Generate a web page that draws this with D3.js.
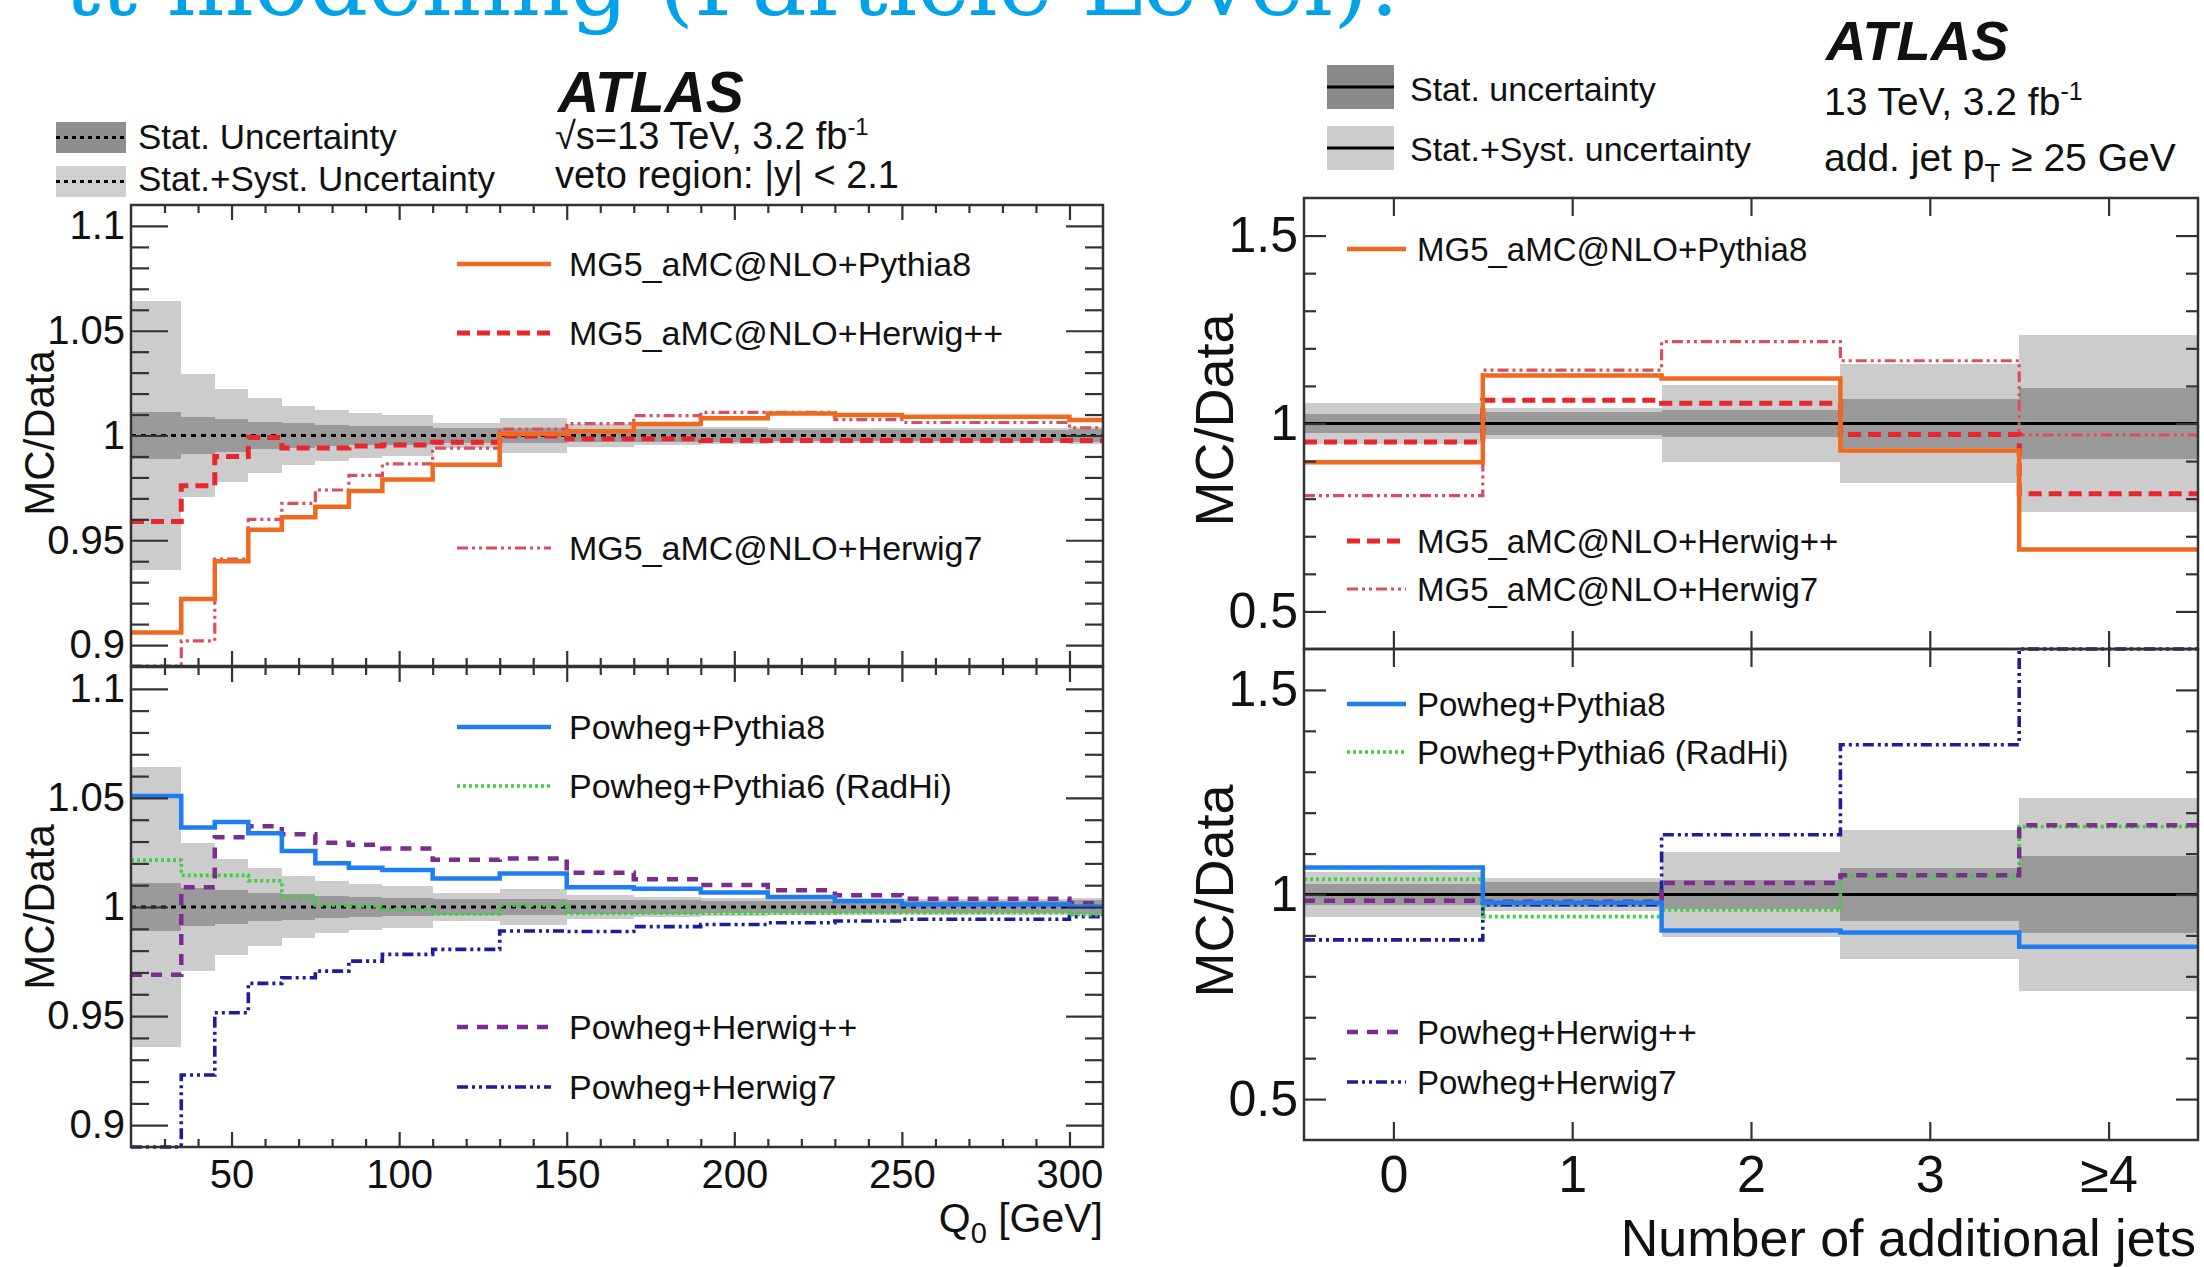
<!DOCTYPE html>
<html>
<head>
<meta charset="utf-8">
<script src="https://cdn.jsdelivr.net/npm/d3@7"></script>
<style>
  html, body { margin: 0; padding: 0; background: #fff; }
  svg { display: block; }
</style>
</head>
<body>
<svg id="fig" width="2204" height="1267"></svg>
<script>
// ---------------- data: gap fraction vs Q0 ----------------
const q0Edges = [20, 35, 45, 55, 65, 75, 85, 95, 110, 130, 150, 170, 190, 210, 230, 250, 300, 310];
const q0StatErr = [0.0112, 0.0088, 0.0078, 0.0066, 0.0058, 0.0050, 0.0047, 0.0043, 0.0038, 0.0035, 0.0032, 0.0030, 0.0029, 0.0028, 0.0028, 0.0027, 0.0030];
const q0TotErr  = [0.0640, 0.0292, 0.0220, 0.0178, 0.0142, 0.0120, 0.0105, 0.0098, 0.0062, 0.0082, 0.0055, 0.0045, 0.0040, 0.0038, 0.0038, 0.0035, 0.0040];

const q0MgPythia8  = [0.906, 0.922, 0.940, 0.955, 0.961, 0.966, 0.9735, 0.979, 0.986, 1.0008, 1.002, 1.0055, 1.0082, 1.0105, 1.0098, 1.009, 1.0074];
const q0MgHerwigPP = [0.959, 0.976, 0.990, 0.999, 0.994, 0.994, 0.995, 0.9955, 0.9968, 0.9998, 0.9984, 0.9984, 0.9976, 0.9976, 0.9976, 0.9976, 0.9976];
const q0MgHerwig7  = [0.890, 0.902, 0.941, 0.960, 0.9676, 0.974, 0.981, 0.9865, 0.994, 1.003, 1.0057, 1.0095, 1.011, 1.011, 1.0076, 1.0062, 1.0037];

const q0PwPythia8  = [1.0509, 1.0364, 1.039, 1.0338, 1.0257, 1.020, 1.018, 1.017, 1.0131, 1.0154, 1.009, 1.0084, 1.0066, 1.0046, 1.0028, 1.0012, 1.0002];
const q0PwPythia6  = [1.0215, 1.0145, 1.0145, 1.012, 1.0047, 1.0008, 1.0005, 0.999, 0.9968, 1.0008, 0.997, 0.9972, 0.9972, 0.9973, 0.9975, 0.9975, 0.9965];
const q0PwHerwigPP = [0.969, 1.009, 1.032, 1.037, 1.0333, 1.0295, 1.0285, 1.0268, 1.0216, 1.0222, 1.0157, 1.0127, 1.0101, 1.0077, 1.0054, 1.0038, 1.0017];
const q0PwHerwig7  = [0.890, 0.923, 0.9515, 0.965, 0.9676, 0.9706, 0.9752, 0.9783, 0.9806, 0.989, 0.9888, 0.991, 0.992, 0.9928, 0.9936, 0.9944, 0.9956];

const q0TickValues = [50, 100, 150, 200, 250, 300];
const q0TickLabels = ["50", "100", "150", "200", "250", "300"];
const q0RatioTicks = [0.9, 0.95, 1, 1.05, 1.1];
const q0RatioLabels = ["0.9", "0.95", "1", "1.05", "1.1"];

// ---------------- data: number of additional jets ----------------
const njetCategories = ["0", "1", "2", "3", "\u22654"];
const njStatErr = [0.025, 0.030, 0.035, 0.065, 0.094];
const njTotErr  = [0.055, 0.040, 0.103, 0.158, 0.235];

const njMgPythia8  = [0.897, 1.128, 1.120, 0.928, 0.665];
const njMgHerwigPP = [0.951, 1.062, 1.054, 0.971, 0.813];
const njMgHerwig7  = [0.808, 1.142, 1.218, 1.167, 0.970];

const njPwPythia8  = [1.066, 0.980, 0.912, 0.907, 0.872];
const njPwPythia6  = [1.037, 0.946, 0.962, 1.045, 1.166];
const njPwHerwigPP = [0.985, 0.982, 1.028, 1.047, 1.169];
const njPwHerwig7  = [0.889, 0.975, 1.146, 1.366, 1.600];

const njRatioTicks = [0.5, 1, 1.5];
const njRatioLabels = ["0.5", "1", "1.5"];

// ---------------- styling ----------------
const FONT = "'Liberation Sans', Arial, Helvetica, sans-serif";
const AX = "#333";
const LIGHT = "#cccccc";
const DARK = "#9a9a9a";

const sty = {
  mgPy8:  { color: "#ef6a1f", width: 4.5, dash: null },
  mgHpp:  { color: "#e8262b", width: 5,   dash: "13,7" },
  mgH7:   { color: "#d9505c", width: 3.2, dash: "11,4,3,4,3,4" },
  pwPy8:  { color: "#1f7df2", width: 4.5, dash: null },
  pwPy6:  { color: "#3fcf3f", width: 3.6, dash: "3,3" },
  pwHpp:  { color: "#7b2d8e", width: 4.5, dash: "11,9" },
  pwH7:   { color: "#1c1c9c", width: 3.6, dash: "11,4,3,4,3,4" }
};

const svg = d3.select("#fig");
const defs = svg.append("defs");
let clipCount = 0;

// header text running off the top edge
svg.append("text")
  .attr("x", 1400).attr("y", 15).attr("text-anchor", "end")
  .attr("font-family", "'DejaVu Serif', serif").attr("font-size", 92)
  .attr("fill", "#00a2e8")
  .text("t\u0074\u0304 modelling (Particle Level):");

function stepPoints(edges, vals) {
  const pts = vals.map((v, i) => [edges[i], v]);
  pts.push([edges[edges.length - 1], vals[vals.length - 1]]);
  return pts;
}

function drawPanel(p) {
  const g = svg.append("g");
  const [xa, xb] = p.x.range();
  const [yb, ya] = p.y.range();
  const id = "clip" + (clipCount++);
  defs.append("clipPath").attr("id", id).append("rect")
    .attr("x", xa).attr("y", ya - 3).attr("width", xb - xa).attr("height", yb - ya + 6);
  const plot = g.append("g").attr("clip-path", `url(#${id})`);

  const bins = p.tot.map((t, i) => ({ x0: p.edges[i], x1: p.edges[i + 1], tot: t, stat: p.stat[i] }));
  plot.append("g").selectAll("rect").data(bins).join("rect")
    .attr("x", d => p.x(d.x0)).attr("width", d => p.x(d.x1) - p.x(d.x0))
    .attr("y", d => p.y(1 + d.tot)).attr("height", d => p.y(1 - d.tot) - p.y(1 + d.tot))
    .attr("fill", LIGHT).attr("shape-rendering", "crispEdges");
  plot.append("g").selectAll("rect").data(bins).join("rect")
    .attr("x", d => p.x(d.x0)).attr("width", d => p.x(d.x1) - p.x(d.x0))
    .attr("y", d => p.y(1 + d.stat)).attr("height", d => p.y(1 - d.stat) - p.y(1 + d.stat))
    .attr("fill", DARK).attr("shape-rendering", "crispEdges");

  plot.append("line")
    .attr("x1", xa).attr("x2", xb).attr("y1", p.y(1)).attr("y2", p.y(1))
    .attr("stroke", "#000").attr("stroke-width", p.refWidth)
    .attr("stroke-dasharray", p.refDash);

  const line = d3.line().x(d => p.x(d[0])).y(d => p.y(d[1])).curve(d3.curveStepAfter);
  p.series.forEach(s => {
    plot.append("path")
      .attr("d", line(stepPoints(p.edges, s.values)))
      .attr("fill", "none").attr("stroke", s.style.color)
      .attr("stroke-width", s.style.width)
      .attr("stroke-dasharray", s.style.dash);
  });

  // axes: ticks pointing inwards on all four sides
  const tidy = sel => {
    sel.select(".domain").remove();
    sel.selectAll("line").attr("stroke", AX).attr("stroke-width", 2.2);
    sel.attr("font-family", FONT);
    sel.selectAll("text").attr("fill", "#111");
  };
  g.append("g").attr("transform", `translate(${xa},0)`)
    .call(d3.axisLeft(p.y).tickValues(p.yMajor).tickSize(-p.yMajLen).tickPadding(6)
      .tickFormat((d, i) => p.yLabels[i]))
    .call(tidy).attr("font-size", p.yFont);
  g.append("g").attr("transform", `translate(${xa},0)`)
    .call(d3.axisLeft(p.y).tickValues(p.yMinor).tickSize(-p.yMinLen).tickFormat(""))
    .call(tidy);
  g.append("g").attr("transform", `translate(${xb},0)`)
    .call(d3.axisRight(p.y).tickValues(p.yMajor).tickSize(-p.yMajLen).tickFormat(""))
    .call(tidy);
  g.append("g").attr("transform", `translate(${xb},0)`)
    .call(d3.axisRight(p.y).tickValues(p.yMinor).tickSize(-p.yMinLen).tickFormat(""))
    .call(tidy);

  g.append("g").attr("transform", `translate(0,${ya})`)
    .call(d3.axisTop(p.x).tickValues(p.xMajor).tickSize(-p.xMajLen).tickFormat(""))
    .call(tidy);
  g.append("g").attr("transform", `translate(0,${yb})`)
    .call(d3.axisBottom(p.x).tickValues(p.xMajor).tickSize(-p.xMajLen).tickPadding(p.xPad)
      .tickFormat(p.xLabels ? (d, i) => p.xLabels[i] : ""))
    .call(tidy).attr("font-size", p.xFont);
  if (p.xMinor) {
    g.append("g").attr("transform", `translate(0,${ya})`)
      .call(d3.axisTop(p.x).tickValues(p.xMinor).tickSize(-p.xMinLen).tickFormat(""))
      .call(tidy);
    g.append("g").attr("transform", `translate(0,${yb})`)
      .call(d3.axisBottom(p.x).tickValues(p.xMinor).tickSize(-p.xMinLen).tickFormat(""))
      .call(tidy);
  }

  g.append("rect")
    .attr("x", xa).attr("y", ya).attr("width", xb - xa).attr("height", yb - ya)
    .attr("fill", "none").attr("stroke", AX).attr("stroke-width", 2.5);

  // legend entries inside the frame
  p.legend.forEach(e => {
    g.append("line")
      .attr("x1", p.legX0).attr("x2", p.legX1).attr("y1", e.y).attr("y2", e.y)
      .attr("stroke", e.style.color).attr("stroke-width", e.style.width)
      .attr("stroke-dasharray", e.style.dash);
    g.append("text")
      .attr("x", p.legTx).attr("y", e.y).attr("dy", "0.36em")
      .attr("font-family", FONT).attr("font-size", p.legFont).attr("fill", "#111")
      .text(e.label);
  });
  return g;
}

// ---------------- left figure: Q0 ----------------
const xQ = d3.scaleLinear().domain([q0Edges[0], q0Edges[q0Edges.length - 1]]).range([131, 1103]);
const yQTop = d3.scaleLinear().domain([0.89, 1.11]).range([666, 205]);
const yQBot = d3.scaleLinear().domain([0.89, 1.11]).range([1147, 667]);
const q0MinorY = d3.range(90, 111).filter(k => k % 5 !== 0).map(k => k / 100);
const q0MinorX = d3.range(30, 310, 10).filter(v => v % 50 !== 0);

const leftCommon = {
  x: xQ, edges: q0Edges, stat: q0StatErr, tot: q0TotErr,
  refWidth: 3, refDash: "5,5",
  yMajor: q0RatioTicks, yLabels: q0RatioLabels, yMinor: q0MinorY,
  yMajLen: 37, yMinLen: 18, yFont: 40,
  xMajor: q0TickValues, xMinor: q0MinorX, xMajLen: 15, xMinLen: 8,
  legX0: 457, legX1: 551, legTx: 569, legFont: 34
};

drawPanel(Object.assign({}, leftCommon, {
  y: yQTop, xLabels: null, xPad: 0, xFont: 40,
  series: [
    { values: q0MgHerwig7, style: sty.mgH7 },
    { values: q0MgHerwigPP, style: sty.mgHpp },
    { values: q0MgPythia8, style: sty.mgPy8 }
  ],
  legend: [
    { y: 264, label: "MG5_aMC@NLO+Pythia8", style: sty.mgPy8 },
    { y: 333, label: "MG5_aMC@NLO+Herwig++", style: sty.mgHpp },
    { y: 548, label: "MG5_aMC@NLO+Herwig7", style: sty.mgH7 }
  ]
}));

drawPanel(Object.assign({}, leftCommon, {
  y: yQBot, xLabels: q0TickLabels, xPad: 13, xFont: 40,
  series: [
    { values: q0PwHerwig7, style: sty.pwH7 },
    { values: q0PwPythia6, style: sty.pwPy6 },
    { values: q0PwHerwigPP, style: sty.pwHpp },
    { values: q0PwPythia8, style: sty.pwPy8 }
  ],
  legend: [
    { y: 727, label: "Powheg+Pythia8", style: sty.pwPy8 },
    { y: 786, label: "Powheg+Pythia6 (RadHi)", style: sty.pwPy6 },
    { y: 1027, label: "Powheg+Herwig++", style: sty.pwHpp },
    { y: 1087, label: "Powheg+Herwig7", style: sty.pwH7 }
  ]
}));

// ---------------- right figure: jet multiplicity ----------------
const njEdges = d3.range(njetCategories.length + 1).map(i => i - 0.5);
const xN = d3.scaleLinear().domain([njEdges[0], njEdges[njEdges.length - 1]]).range([1304, 2198]);
const yNTop = d3.scaleLinear().domain([0.4, 1.6]).range([649, 198]);
const yNBot = d3.scaleLinear().domain([0.4, 1.6]).range([1140, 649]);
const njMinorY = d3.range(5, 16).filter(k => k % 5 !== 0).map(k => k / 10);
const njTickValues = d3.range(njetCategories.length);

const rightCommon = {
  x: xN, edges: njEdges, stat: njStatErr, tot: njTotErr,
  refWidth: 3, refDash: null,
  yMajor: njRatioTicks, yLabels: njRatioLabels, yMinor: njMinorY,
  yMajLen: 22, yMinLen: 12, yFont: 50,
  xMajor: njTickValues, xMinor: null, xMajLen: 18, xMinLen: 0,
  legX0: 1347, legX1: 1406, legTx: 1417, legFont: 33
};

drawPanel(Object.assign({}, rightCommon, {
  y: yNTop, xLabels: null, xPad: 0, xFont: 52,
  series: [
    { values: njMgHerwig7, style: sty.mgH7 },
    { values: njMgHerwigPP, style: sty.mgHpp },
    { values: njMgPythia8, style: sty.mgPy8 }
  ],
  legend: [
    { y: 249, label: "MG5_aMC@NLO+Pythia8", style: sty.mgPy8 },
    { y: 541, label: "MG5_aMC@NLO+Herwig++", style: sty.mgHpp },
    { y: 589, label: "MG5_aMC@NLO+Herwig7", style: sty.mgH7 }
  ]
}));

drawPanel(Object.assign({}, rightCommon, {
  y: yNBot, xLabels: njetCategories, xPad: 15, xFont: 52,
  series: [
    { values: njPwHerwig7, style: sty.pwH7 },
    { values: njPwPythia6, style: sty.pwPy6 },
    { values: njPwHerwigPP, style: sty.pwHpp },
    { values: njPwPythia8, style: sty.pwPy8 }
  ],
  legend: [
    { y: 704, label: "Powheg+Pythia8", style: sty.pwPy8 },
    { y: 752, label: "Powheg+Pythia6 (RadHi)", style: sty.pwPy6 },
    { y: 1032, label: "Powheg+Herwig++", style: sty.pwHpp },
    { y: 1082, label: "Powheg+Herwig7", style: sty.pwH7 }
  ]
}));

// ---------------- axis titles ----------------
function txt(x, y, size, str, opts = {}) {
  const t = svg.append("text").attr("x", x).attr("y", y)
    .attr("font-family", FONT).attr("font-size", size).attr("fill", "#111");
  if (opts.anchor) t.attr("text-anchor", opts.anchor);
  if (opts.bold) t.attr("font-weight", "bold");
  if (opts.italic) t.attr("font-style", "italic");
  if (opts.rotate) t.attr("transform", `rotate(-90,${x},${y})`);
  if (str !== null) t.text(str);
  return t;
}

txt(54, 433, 42, "MC/Data", { anchor: "middle", rotate: true });
txt(54, 907, 42, "MC/Data", { anchor: "middle", rotate: true });
txt(1233, 420, 54, "MC/Data", { anchor: "middle", rotate: true });
txt(1233, 891, 54, "MC/Data", { anchor: "middle", rotate: true });

const q0Title = txt(1103, 1232, 41, null, { anchor: "end" });
q0Title.append("tspan").text("Q");
q0Title.append("tspan").attr("dy", 11).attr("font-size", 29).text("0");
q0Title.append("tspan").attr("dy", -11).text(" [GeV]");

txt(2196, 1256, 52, "Number of additional jets", { anchor: "end" });

// ---------------- left header: legend and labels ----------------
svg.append("rect").attr("x", 56).attr("y", 122).attr("width", 70).attr("height", 31).attr("fill", "#8e8e8e");
svg.append("line").attr("x1", 56).attr("x2", 126).attr("y1", 137.5).attr("y2", 137.5)
  .attr("stroke", "#000").attr("stroke-width", 3).attr("stroke-dasharray", "4,4");
svg.append("rect").attr("x", 56).attr("y", 166).attr("width", 70).attr("height", 31).attr("fill", "#d0d0d0");
svg.append("line").attr("x1", 56).attr("x2", 126).attr("y1", 181.5).attr("y2", 181.5)
  .attr("stroke", "#000").attr("stroke-width", 3).attr("stroke-dasharray", "4,4");
txt(138, 149, 35, "Stat. Uncertainty");
txt(138, 191, 35, "Stat.+Syst. Uncertainty");

txt(558, 112, 57, "ATLAS", { bold: true, italic: true });
const lumiL = txt(555, 149, 38, null);
lumiL.append("tspan").text("\u221As=13 TeV, 3.2 fb");
lumiL.append("tspan").attr("dy", -14).attr("font-size", 24).text("-1");
txt(555, 188, 38, "veto region: |y| < 2.1");

// ---------------- right header: legend and labels ----------------
svg.append("rect").attr("x", 1327).attr("y", 65).attr("width", 67).attr("height", 44).attr("fill", "#8a8a8a");
svg.append("line").attr("x1", 1327).attr("x2", 1394).attr("y1", 87).attr("y2", 87)
  .attr("stroke", "#000").attr("stroke-width", 3);
svg.append("rect").attr("x", 1327).attr("y", 126).attr("width", 67).attr("height", 44).attr("fill", "#cdcdcd");
svg.append("line").attr("x1", 1327).attr("x2", 1394).attr("y1", 148).attr("y2", 148)
  .attr("stroke", "#000").attr("stroke-width", 3);
txt(1410, 101, 34, "Stat. uncertainty");
txt(1410, 161, 34, "Stat.+Syst. uncertainty");

txt(1826, 60, 56, "ATLAS", { bold: true, italic: true });
const lumiR = txt(1824, 115, 39, null);
lumiR.append("tspan").text("13 TeV, 3.2 fb");
lumiR.append("tspan").attr("dy", -15).attr("font-size", 25).text("-1");
const jetR = txt(1824, 171, 39, null);
jetR.append("tspan").text("add. jet p");
jetR.append("tspan").attr("dy", 11).attr("font-size", 26).text("T");
jetR.append("tspan").attr("dy", -11).text(" \u2265 25 GeV");
</script>
</body>
</html>
